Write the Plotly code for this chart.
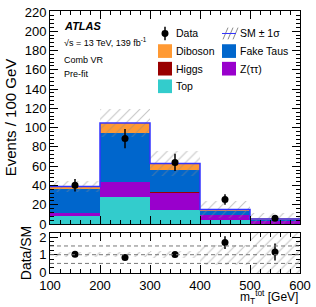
import numpy as np
import plotly.graph_objects as go

# ---- data ----
bin_edges = [100, 200, 300, 400, 500, 600]
bin_centers = [150, 250, 350, 450, 550]
top = [8.5, 28.4, 14.9, 4.2, 0.4]
ztautau = [3.0, 15.2, 17.6, 5.2, 3.3]
higgs = [0.1, 0.2, 0.2, 0.1, 0.1]
fake_taus = [24.9, 50.9, 23.8, 4.0, 1.3]
diboson = [2.5, 10.1, 6.4, 1.5, 0.2]
sm_unc = [6.0, 15.0, 13.0, 8.5, 6.5]
data = [40.2, 88.6, 63.9, 25.4, 6.1]
data_err = [6.5, 10.0, 9.0, 5.5, 2.6]
ratio_lines = [0.5, 1.0, 1.5]

colors = {"Top": "#33CCCC", "Z(\u03c4\u03c4)": "#9900CC", "Higgs": "#990000",
          "Fake Taus": "#0066CC", "Diboson": "#FF9933"}
components = [("Top", top), ("Z(\u03c4\u03c4)", ztautau), ("Higgs", higgs),
              ("Fake Taus", fake_taus), ("Diboson", diboson)]

fig = go.Figure()
base = np.zeros(len(bin_centers))
widths = np.diff(bin_edges)
for name, vals in components:
    v = np.array(vals)
    fig.add_trace(go.Bar(x=bin_centers, y=v, base=base, width=widths,
                         marker=dict(color=colors[name], line=dict(width=0)),
                         name=name, showlegend=False, xaxis="x", yaxis="y"))
    base = base + v
total = base
unc = np.array(sm_unc)

# total outline
fig.add_trace(go.Scatter(x=bin_edges, y=list(total) + [total[-1]], mode="lines",
                         line=dict(color="#3333FF", width=1.5, shape="hv"),
                         showlegend=False, hoverinfo="skip", xaxis="x", yaxis="y"))

hatch = dict(shape="/", fgcolor="#8a8a8a", bgcolor="rgba(0,0,0,0)", size=7, solidity=0.15)
# SM uncertainty band
fig.add_trace(go.Bar(x=bin_centers, y=2 * unc, base=total - unc, width=widths,
                     marker=dict(color="rgba(0,0,0,0)", line=dict(width=0), pattern=hatch),
                     name="SM \u00b1 1\u03c3", showlegend=False, xaxis="x", yaxis="y"))

# data
fig.add_trace(go.Scatter(x=bin_centers, y=data, mode="markers",
                         marker=dict(color="black", size=7),
                         error_y=dict(type="data", array=data_err, color="black",
                                      thickness=1.5, width=0),
                         name="Data", showlegend=False, xaxis="x", yaxis="y"))

# ratio panel
rel = unc / total
fig.add_trace(go.Bar(x=bin_centers, y=2 * rel, base=1 - rel, width=widths,
                     marker=dict(color="rgba(0,0,0,0)", line=dict(width=0), pattern=hatch),
                     showlegend=False, xaxis="x2", yaxis="y2"))
ratio = np.array(data) / total
ratio_err = np.array(data_err) / total
fig.add_trace(go.Scatter(x=bin_centers, y=ratio, mode="markers",
                         marker=dict(color="black", size=7),
                         error_y=dict(type="data", array=ratio_err, color="black",
                                      thickness=1.5, width=0),
                         showlegend=False, xaxis="x2", yaxis="y2"))
for yv in ratio_lines:
    fig.add_shape(type="line", xref="x2 domain", yref="y2", x0=0, x1=1, y0=yv, y1=yv,
                  line=dict(color="#777777", width=1, dash="4px,3px"), layer="above")

font = "Liberation Sans, Arial, sans-serif"
axis_common = dict(showgrid=False, zeroline=False, showline=True, linecolor="black",
                   linewidth=1, mirror="allticks", ticks="inside", ticklen=8,
                   tickcolor="black", tickfont=dict(size=13, family=font, color="black"))

fig.update_layout(
    width=316, height=307,
    margin=dict(l=50, r=16, t=5, b=34),
    paper_bgcolor="white", plot_bgcolor="white",
    barmode="overlay", bargap=0, showlegend=False,
    font=dict(family=font, color="black"),
    xaxis=dict(axis_common, domain=[0, 1], range=[100, 600], tick0=100, dtick=100,
               showticklabels=False, anchor="y", matches="x2",
               minor=dict(ticks="inside", ticklen=4, dtick=20, tickcolor="black")),
    yaxis=dict(axis_common, domain=[0.187, 1], range=[0, 221], tick0=0, dtick=20,
               anchor="x",
               minor=dict(ticks="inside", ticklen=4, dtick=4, tickcolor="black"),
               title=dict(text="Events / 100 GeV", font=dict(size=15, family=font), standoff=4)),
    xaxis2=dict(axis_common, domain=[0, 1], range=[100, 600], tick0=100, dtick=100,
                anchor="y2",
                minor=dict(ticks="inside", ticklen=4, dtick=20, tickcolor="black")),
    yaxis2=dict(axis_common, domain=[0, 0.153], range=[-0.05, 2.25], tickvals=[0, 1, 2],
                anchor="x2",
                minor=dict(ticks="inside", ticklen=4, dtick=0.25, tickcolor="black"),
                title=dict(text="Data/SM", font=dict(size=14, family=font), standoff=4)),
)

# pixel -> paper helpers (plot area spans px 50..300, py 5..273)
def px(x):
    return (x - 50) / 250.0


def py(y):
    return (273 - y) / 268.0


# ---- manual two-column legend ----
legend_items = [
    ("Data", "data", 158, 28), ("SM \u00b1 1\u03c3", "band", 222, 28),
    ("Diboson", "Diboson", 158, 46), ("Fake Taus", "Fake Taus", 222, 46),
    ("Higgs", "Higgs", 158, 64), ("Z(\u03c4\u03c4)", "Z(\u03c4\u03c4)", 222, 64),
    ("Top", "Top", 158, 82),
]
for label, kind, x0, yc in legend_items:
    if kind == "data":
        fig.add_shape(type="line", xref="paper", yref="paper", x0=px(x0 + 7), x1=px(x0 + 7),
                      y0=py(yc - 7), y1=py(yc + 7), line=dict(color="black", width=1.5))
        fig.add_shape(type="circle", xref="paper", yref="paper", x0=px(x0 + 3.5), x1=px(x0 + 10.5),
                      y0=py(yc - 3.5), y1=py(yc + 3.5), fillcolor="black", line=dict(width=0))
    elif kind == "band":
        for k in range(3):
            fig.add_shape(type="line", xref="paper", yref="paper",
                          x0=px(x0 + 1 + 5 * k), x1=px(x0 + 6 + 5 * k),
                          y0=py(yc + 6), y1=py(yc - 6), line=dict(color="#8a8a8a", width=1))
        fig.add_shape(type="line", xref="paper", yref="paper", x0=px(x0), x1=px(x0 + 14),
                      y0=py(yc), y1=py(yc), line=dict(color="#3333FF", width=1))
    else:
        fig.add_shape(type="rect", xref="paper", yref="paper", x0=px(x0), x1=px(x0 + 14),
                      y0=py(yc - 7), y1=py(yc + 7), fillcolor=colors[kind], line=dict(width=0))
    fig.add_annotation(text=label, xref="paper", yref="paper", x=px(x0 + 16), y=py(yc),
                       xanchor="left", yanchor="middle", showarrow=False,
                       font=dict(size=10.5, family=font, color="black"))

annots = [
    dict(text="<b><i>ATLAS</i></b>", x=62, y=20, size=11),
    dict(text="\u221as = 13 TeV, 139 fb<sup>-1</sup>", x=62, y=37, size=9),
    dict(text="Comb VR", x=62, y=55, size=9),
    dict(text="Pre-fit", x=62, y=69, size=9),
]
for a in annots:
    fig.add_annotation(text=a["text"], xref="paper", yref="paper",
                       x=px(a["x"]), y=py(a["y"]),
                       xanchor="left", yanchor="middle", showarrow=False,
                       font=dict(size=a["size"], family=font, color="black"))
fig.add_annotation(text="m<sub>T</sub><sup>tot</sup> [GeV]", xref="paper", yref="paper",
                   x=1, y=py(298), xanchor="right", yanchor="middle",
                   showarrow=False, font=dict(size=12, family=font, color="black"))

fig.write_html("out.html", config={"displayModeBar": False},
               post_script="document.body.style.margin='0px';document.body.style.overflow='hidden';")
